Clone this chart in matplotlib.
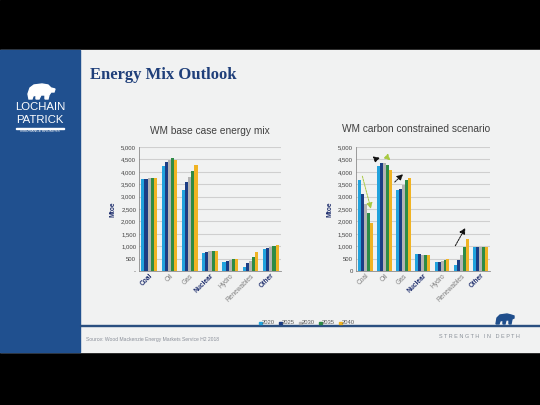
import matplotlib
matplotlib.use("Agg")
import matplotlib.pyplot as plt
import numpy as np
from matplotlib.patches import Rectangle, Polygon

plt.rcParams['font.family'] = ['Liberation Sans', 'DejaVu Sans']

categories = ["Coal", "Oil", "Gas", "Nuclear", "Hydro", "Renewables", "Other"]
years = ["2020", "2025", "2030", "2035", "2040"]

base_case = {
    "2020": [3700, 4250, 3270, 720, 370, 180, 900],
    "2025": [3720, 4380, 3580, 760, 400, 320, 930],
    "2030": [3750, 4480, 3800, 800, 450, 420, 960],
    "2035": [3750, 4550, 4030, 820, 470, 580, 1000],
    "2040": [3730, 4480, 4270, 810, 490, 770, 1030],
}
carbon_case = {
    "2020": [3680, 4250, 3260, 680, 360, 260, 980],
    "2025": [3120, 4350, 3290, 680, 380, 450, 980],
    "2030": [2720, 4350, 3480, 660, 410, 650, 980],
    "2035": [2320, 4280, 3650, 650, 440, 950, 980],
    "2040": [1950, 4080, 3770, 640, 470, 1290, 980],
}
bold_left = ["Coal", "Nuclear", "Other"]
bold_right = ["Nuclear", "Other"]
yticks = [0, 500, 1000, 1500, 2000, 2500, 3000, 3500, 4000, 4500, 5000]

# trend arrows on the carbon constrained chart: (x0, y0, x1, y1, colour)
arrows = [
    (-0.19, 3930, 0.33, 2400, "#a7c940"),
    (0.45, 4490, 0.91, 4600, "#111111"),
    (1.08, 4630, 1.41, 4385, "#a7c940"),
    (1.43, 3510, 2.07, 3980, "#111111"),
    (4.62, 920, 5.28, 1830, "#111111"),
]

colors = ["#22a3dd", "#1c3d84", "#b3b3b3", "#2e8b45", "#f0b323"]
navy = "#1f4e8c"
W, H = 540, 405

fig = plt.figure(figsize=(5.4, 4.05), dpi=100)
bg = fig.add_axes([0, 0, 1, 1])
bg.set_xlim(0, W)
bg.set_ylim(H, 0)
bg.axis("off")
bg.add_patch(Rectangle((0, 0), W, H, color="black"))
bg.add_patch(Rectangle((0, 50), W, 302, color="#f1f2f2"))
bg.add_patch(Rectangle((0, 50), 80, 302, color="#20508f"))
bg.add_patch(Rectangle((80, 324.5), 460, 1.6, color="#2a4f80"))
# logo
bear = [(28, 94), (30, 88), (34, 85), (42, 84), (48, 85), (51, 88), (55, 89),
        (54, 92), (51, 92), (49, 95), (48, 99), (45, 99), (45, 95), (41, 95),
        (39, 99), (36, 99), (36, 95), (33, 96), (32, 99), (29, 99)]
bg.add_patch(Polygon(bear, closed=True, color="white"))
bg.text(40, 107, "LOCHAIN", color="white", fontsize=8.2, ha="center", va="center")
bg.text(40, 120, "PATRICK", color="white", fontsize=8.2, ha="center", va="center")
bg.add_patch(Rectangle((16, 128), 48, 0.6, color="white"))
bg.text(40, 131.5, "INSURANCE BROKERS", color="white", fontsize=2.6, ha="center", va="center")
bg.text(90, 75, "Energy Mix Outlook", color="#1f3f7a", fontsize=12, fontweight="bold",
        family=["Liberation Serif", "DejaVu Serif"], ha="left", va="center")
bg.text(86, 340, "Source: Wood Mackenzie Energy Markets Service H2 2018", color="#8a8f99",
        fontsize=3.6, ha="left", va="center")
bg.text(479, 337, "S T R E N G T H   I N   D E P T H", color="#8a9199", fontsize=4.0,
        ha="center", va="center")
bear2 = [(496, 324), (497, 318), (500, 315), (507, 314), (511, 315), (514, 316),
         (514, 318), (512, 319), (511, 324), (509, 324), (509, 320), (506, 320),
         (505, 324), (503, 324), (503, 320), (500, 321), (499, 324)]
bg.add_patch(Polygon(bear2, closed=True, color="#1f4e8c"))

# legend
lx = 259
for i, yr in enumerate(years):
    x = lx + i * 20
    bg.add_patch(Rectangle((x, 321.5), 2.6, 2.6, color=colors[i]))
    bg.text(x + 3.2, 323, yr, fontsize=4.2, color="#595959", ha="left", va="center")


def draw_chart(rect, data, title, bold, zero_label):
    ax = fig.add_axes(rect)
    ax.set_facecolor("none")
    x = np.arange(len(categories))
    w = 0.155
    for j, yr in enumerate(years):
        ax.bar(x + (j - 2) * w, data[yr], width=w, color=colors[j], zorder=3)
    ax.set_xlim(-0.5, len(categories) - 0.5)
    ax.set_ylim(0, 5000)
    ax.set_yticks(yticks)
    labels = [f"{v:,}" for v in yticks]
    labels[0] = zero_label
    ax.set_yticklabels(labels, fontsize=4.3, color="#404040")
    ax.yaxis.grid(True, color="#cfcfcf", linewidth=0.8, zorder=0)
    ax.set_axisbelow(True)
    for s in ["top", "right"]:
        ax.spines[s].set_visible(False)
    ax.spines["left"].set_color("#8c8c8c")
    ax.spines["bottom"].set_color("#8c8c8c")
    ax.spines["left"].set_linewidth(0.6)
    ax.spines["bottom"].set_linewidth(0.6)
    ax.tick_params(axis="y", length=0, pad=2)
    ax.tick_params(axis="x", length=0, pad=1)
    ax.set_xticks(x)
    ax.set_xticklabels(categories, rotation=45, ha="right", rotation_mode="anchor", fontsize=4.8)
    for lab in ax.get_xticklabels():
        if lab.get_text() in bold:
            lab.set_fontweight("bold")
            lab.set_color("#1f2f6e")
        else:
            lab.set_color("#7f7f7f")
    ax.set_ylabel("Mtoe", fontsize=4.8, fontweight="bold", color="#1f2f6e", labelpad=3)
    ax.set_title(title, fontsize=7.3, color="#404040", pad=9)
    return ax


axl = draw_chart([139 / W, 1 - 271 / H, 142 / W, 124 / H], base_case,
                 "WM base case energy mix", bold_left, "-")
axr = draw_chart([355.7 / W, 1 - 271 / H, 134.3 / W, 124 / H], carbon_case,
                 "WM carbon constrained scenario", bold_right, "0")
axr.title.set_position((0.45, 1.0))
axr.set_title("WM carbon constrained scenario", fontsize=7.3, color="#404040", pad=11)

for x0, y0, x1, y1, c in arrows:
    axr.annotate("", xy=(x1, y1), xytext=(x0, y0),
                 arrowprops=dict(arrowstyle="-|>,head_length=0.35,head_width=0.18",
                                 color=c, lw=0.7, linestyle=(0, (2, 1))),
                 zorder=5)

fig.savefig("out.png", dpi=100)
